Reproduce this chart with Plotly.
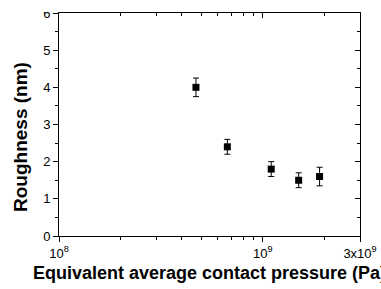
import numpy as np
import plotly.graph_objects as go

# Data
pressure = [4.7e8, 6.7e8, 1.1e9, 1.5e9, 1.9e9]      # Pa
roughness = [4.0, 2.4, 1.8, 1.5, 1.6]               # nm
rough_err = [0.25, 0.2, 0.2, 0.2, 0.25]             # nm

x_major = [1e8, 1e9, 3e9]
x_major_text = ["10<sup>8</sup>", "10<sup>9</sup>", "3x10<sup>9</sup>"]
x_minor = [2e8, 3e8, 4e8, 5e8, 6e8, 7e8, 8e8, 9e8, 2e9]
y_major = [0, 1, 2, 3, 4, 5, 6]
y_minor = [0.5, 1.5, 2.5, 3.5, 4.5, 5.5]

FONT = "Liberation Sans, Arial, sans-serif"
xr = [8, np.log10(3e9)]
yr = [0, 6]

W, H = 381, 289
ML, MR, MT, MB = 59, 21, 13, 53
pw, ph = W - ML - MR, H - MT - MB

fig = go.Figure()
fig.add_trace(go.Scatter(
    x=pressure, y=roughness, mode="markers",
    marker=dict(symbol="square", size=7, color="black"),
    error_y=dict(type="data", array=rough_err, visible=True,
                 color="black", thickness=1, width=3),
    showlegend=False, hoverinfo="skip",
))
# invisible trace for mirrored axes
fig.add_trace(go.Scatter(
    x=pressure, y=roughness, mode="markers", xaxis="x2", yaxis="y2",
    marker=dict(opacity=0), showlegend=False, hoverinfo="skip",
))

common_axis = dict(showgrid=False, zeroline=False, showline=True,
                   linecolor="black", linewidth=1, tickcolor="black",
                   tickwidth=1, automargin=False)

fig.update_layout(
    width=W, height=H,
    margin=dict(l=ML, r=MR, t=MT, b=MB),
    paper_bgcolor="white", plot_bgcolor="white",
    font=dict(family=FONT, color="black", size=13),
    xaxis=dict(type="log", range=xr, tickmode="array", tickvals=x_major,
               ticktext=x_major_text, ticks="outside", ticklen=5,
               tickfont=dict(size=13),
               minor=dict(tickmode="array", tickvals=x_minor, ticks="outside",
                          ticklen=3, tickcolor="black", tickwidth=1),
               title=dict(text="<b>Equivalent average contact pressure (Pa)</b>",
                          font=dict(size=18), standoff=6),
               **common_axis),
    yaxis=dict(range=yr, tickmode="array", tickvals=y_major, ticks="outside",
               ticklen=5, tickfont=dict(size=13),
               minor=dict(tickmode="array", tickvals=y_minor, ticks="outside",
                          ticklen=3, tickcolor="black", tickwidth=1),
               **common_axis),
    xaxis2=dict(type="log", range=xr, overlaying="x", side="top",
                tickmode="array", tickvals=x_major, ticks="inside", ticklen=5,
                showticklabels=False,
                minor=dict(tickmode="array", tickvals=x_minor, ticks="inside",
                           ticklen=3, tickcolor="black", tickwidth=1),
                **common_axis),
    yaxis2=dict(range=yr, overlaying="y", side="right", tickmode="array",
                tickvals=y_major, ticks="inside", ticklen=5,
                showticklabels=False,
                minor=dict(tickmode="array", tickvals=y_minor, ticks="inside",
                           ticklen=3, tickcolor="black", tickwidth=1),
                **common_axis),
)

# y-axis title placed as in the reference (slightly below plot centre)
fig.add_annotation(text="<b>Roughness (nm)</b>", textangle=-90,
                   xref="paper", yref="paper",
                   x=(20 - ML) / pw, y=1 - (137 - MT) / ph,
                   xanchor="center", yanchor="middle", showarrow=False,
                   font=dict(size=19, family=FONT, color="black"))

# the reference is cropped at the top edge (the "6" label is cut off)
fig.add_shape(type="rect", xref="paper", yref="paper",
              x0=-0.3, x1=1.1, y0=1 + 1.0 / ph, y1=1 + 14 / ph,
              fillcolor="white", line=dict(width=0), layer="above")

fig.write_html("out.html",
               config={"displayModeBar": False},
               post_script="document.body.style.margin='0';"
                           "document.body.style.overflow='hidden';")
